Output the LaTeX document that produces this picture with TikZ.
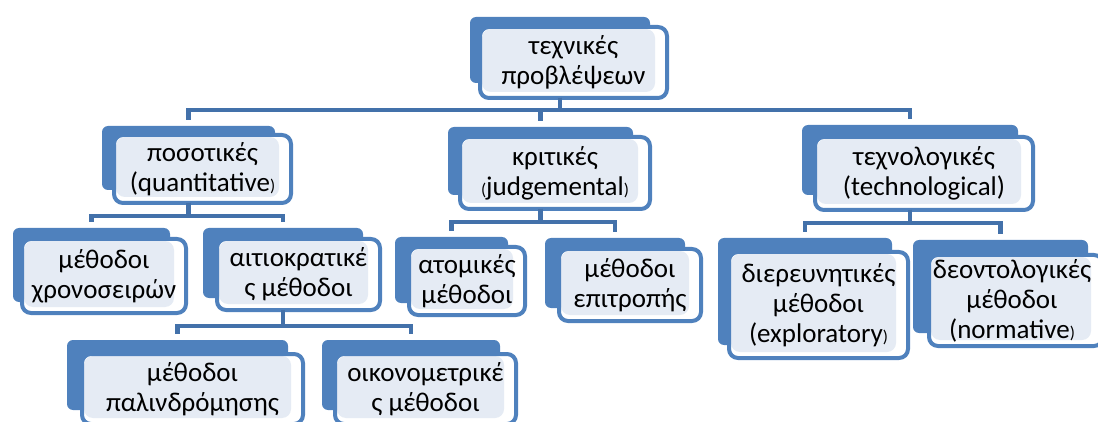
\documentclass[tikz,border=0pt]{standalone}
\usepackage{fontspec}
\setmainfont{Carlito}
\usepackage{xcolor}
\usetikzlibrary{fit,calc}
\definecolor{boxblue}{RGB}{79,129,189}
\definecolor{lineblue}{RGB}{67,113,170}
\definecolor{dotfill}{RGB}{229,235,244}
\newcommand{\sparen}[1]{{\fontsize{17}{17}\selectfont#1}}

\begin{document}
\begin{tikzpicture}[
  x=1pt, y=-1pt,
  backbox/.style={fill=boxblue, rounded corners=6pt, inner sep=0pt, outer sep=0pt},
  frontbox/.style={draw=boxblue, line width=4pt, fill=white, rounded corners=9pt,
    inner sep=0pt, outer sep=0pt,
    path picture={\fill[dotfill] ($(path picture bounding box.north west)+(2,2)$)
      rectangle ($(path picture bounding box.south east)+(-12,-6)$);}},
  lbl/.style={align=center, inner sep=0pt, font=\fontsize{27}{30}\selectfont},
  conn/.style={draw=lineblue, line width=4.5pt}
]
\useasboundingbox (0,0) rectangle (1098,422);
\clip (0,0) rectangle (1098,422);

\node[backbox, fit={(470,17)(650,83)}] (technB) {};
\node[frontbox, fit={(480,27)(667,98)}] (techn) {};
\node[lbl] (technT) at (techn) {τεχνικές\\προβλέψεων};

\node[backbox, fit={(102,126)(275,190)}] (posotB) {};
\node[frontbox, fit={(114,135)(291,203)}] (posot) {};
\node[lbl] (posotT) at (posot) {ποσοτικές\\(quantitative\sparen{)}};
\node[backbox, fit={(448,127)(633,195)}] (kritB) {};
\node[frontbox, fit={(460,137)(650,209)}] (krit) {};
\node[lbl] (kritT) at (krit) {κριτικές\\\sparen{(}judgemental\sparen{)}};
\node[backbox, fit={(802,125)(1018,195)}] (technolB) {};
\node[frontbox, fit={(815,137)(1033,210)}] (technol) {};
\node[lbl] (technolT) at (technol) {τεχνολογικές\\(technological)};

\node[backbox, fit={(13,228)(170,302)}] (xronB) {};
\node[frontbox, fit={(22,239)(186,313)}] (xron) {};
\node[lbl] (xronT) at (xron) {μέθοδοι\\χρονοσειρών};
\node[backbox, fit={(203,228)(363,298)}] (aitioB) {};
\node[frontbox, fit={(217,239)(380,310)}] (aitio) {};
\node[lbl] (aitioT) at (aitio) {αιτιοκρατικέ\\ς μέθοδοι};
\node[backbox, fit={(395,237)(508,303)}] (atomB) {};
\node[frontbox, fit={(409,247)(525,315)}] (atom) {};
\node[lbl] (atomT) at (atom) {ατομικές\\μέθοδοι};
\node[backbox, fit={(545,238)(685,308)}] (epitrB) {};
\node[frontbox, fit={(559,249)(701,321)}] (epitr) {};
\node[lbl] (epitrT) at (epitr) {μέθοδοι\\επιτροπής};
\node[backbox, fit={(718,238)(892,345)}] (dierB) {};
\node[frontbox, fit={(729,252)(908,358)}] (dier) {};
\node[lbl] (dierT) at (dier) {διερευνητικές\\μέθοδοι\\(exploratory\sparen{)}};
\node[backbox, fit={(913,240)(1088,333)}] (deontB) {};
\node[frontbox, fit={(929,255)(1103,346)}] (deont) {};
\node[lbl] (deontT) at ($(deont)+(-4,0)$) {δεοντολογικές\\μέθοδοι\\(normative\sparen{)}};

\node[backbox, fit={(67,340)(288,410)}] (palinB) {};
\node[frontbox, fit={(82,354)(303,424)}] (palin) {};
\node[lbl] (palinT) at (palin) {μέθοδοι\\παλινδρόμησης};
\node[backbox, fit={(322,340)(500,410)}] (oikonB) {};
\node[frontbox, fit={(335,354)(516,424)}] (oikon) {};
\node[lbl] (oikonT) at (oikon) {οικονομετρικέ\\ς μέθοδοι};

\draw[conn] (technB |- techn.south) -- ++(0,12) -| ($(posotB.north)+(0,-6)$);
\draw[conn] (technB |- techn.south) -- ++(0,12) -| ($(kritB.north)+(0,-6)$);
\draw[conn] (technB |- techn.south) -- ++(0,12) -| ($(technolB.north)+(0,-6)$);
\draw[conn] (posotB |- posot.south) -- ++(0,13) -| ($(xronB.north)+(0,-6)$);
\draw[conn] (posotB |- posot.south) -- ++(0,13) -| ($(aitioB.north)+(0,-6)$);
\draw[conn] (kritB |- krit.south) -- ++(0,13) -| ($(atomB.north)+(0,-6)$);
\draw[conn] (kritB |- krit.south) -- ++(0,13) -| ($(epitrB.north)+(0,-6)$);
\draw[conn] (technolB |- technol.south) -- ++(0,13) -| ($(dierB.north)+(0,-6)$);
\draw[conn] (technolB |- technol.south) -- ++(0,13) -| ($(deontB.north)+(0,-6)$);
\draw[conn] (aitioB |- aitio.south) -- ++(0,16) -| ($(palinB.north)+(0,-6)$);
\draw[conn] (aitioB |- aitio.south) -- ++(0,16) -| ($(oikonB.north)+(0,-6)$);
\end{tikzpicture}
\end{document}
